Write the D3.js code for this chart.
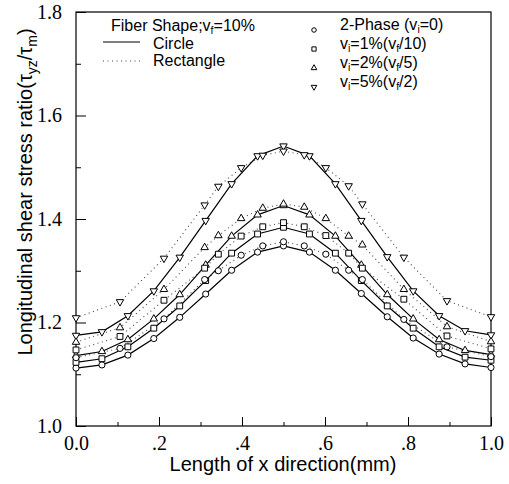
<!DOCTYPE html>
<html>
    <head>
        <script src="https://cdn.jsdelivr.net/npm/d3@7"></script>
        <style>
            body { margin: 0; background: #fff; }
        </style>
    </head>
    <body>
        <svg id="chart" width=509 height=484></svg>
        <script>
            // Data
            var circleX = [0, 0.0625, 0.125, 0.1875, 0.25, 0.3125, 0.375, 0.4375, 0.5, 0.5625, 0.625, 0.6875, 0.75, 0.8125, 0.875, 0.9375, 1];
            var rectX = [0, 0.106, 0.212, 0.31, 0.343, 0.398, 0.45, 0.5, 0.55, 0.602, 0.657, 0.69, 0.79, 0.894, 1];

            var circle2Phase = [1.112, 1.118, 1.137, 1.169, 1.210, 1.255, 1.301, 1.336, 1.348, 1.336, 1.301, 1.256, 1.211, 1.170, 1.139, 1.120, 1.113];
            var circleVi1 = [1.123, 1.130, 1.153, 1.189, 1.232, 1.281, 1.334, 1.371, 1.384, 1.371, 1.334, 1.281, 1.232, 1.189, 1.153, 1.133, 1.127];
            var circleVi2 = [1.136, 1.144, 1.167, 1.207, 1.254, 1.311, 1.367, 1.408, 1.426, 1.408, 1.367, 1.311, 1.254, 1.207, 1.167, 1.146, 1.138];
            var circleVi5 = [1.175, 1.182, 1.213, 1.261, 1.326, 1.397, 1.468, 1.522, 1.541, 1.522, 1.468, 1.397, 1.327, 1.261, 1.213, 1.184, 1.176];

            var rect2Phase = [1.132, 1.150, 1.207, 1.283, 1.300, 1.330, 1.348, 1.356, 1.348, 1.332, 1.301, 1.283, 1.206, 1.153, 1.134];
            var rectVi1 = [1.147, 1.173, 1.243, 1.305, 1.332, 1.367, 1.385, 1.393, 1.385, 1.368, 1.334, 1.305, 1.245, 1.174, 1.149];
            var rectVi2 = [1.162, 1.190, 1.264, 1.345, 1.368, 1.401, 1.421, 1.429, 1.423, 1.401, 1.367, 1.350, 1.264, 1.192, 1.163];
            var rectVi5 = [1.209, 1.240, 1.324, 1.427, 1.463, 1.499, 1.523, 1.531, 1.524, 1.499, 1.464, 1.429, 1.326, 1.242, 1.211];

            var xMajor = [0, 0.2, 0.4, 0.6, 0.8, 1.0];
            var xMajorLabels = ["0.0", ".2", ".4", ".6", ".8", "1.0"];
            var xMinor = [0.1, 0.3, 0.5, 0.7, 0.9];
            var yMajor = [1.0, 1.2, 1.4, 1.6, 1.8];
            var yMajorLabels = ["1.0", "1.2", "1.4", "1.6", "1.8"];
            var yMinor = [1.1, 1.3, 1.5, 1.7];

            var svg = d3.select("svg#chart");
            var sans = "'Liberation Sans', Arial, sans-serif";
            var serif = "'Liberation Serif', 'Times New Roman', serif";

            var plotLeft = 76, plotRight = 491, plotTop = 12, plotBottom = 426;
            var x = d3.scaleLinear().domain([0, 1]).range([plotLeft, plotRight]);
            var y = d3.scaleLinear().domain([1.0, 1.8]).range([plotBottom, plotTop]);

            // Axes (ticks point inward)
            function styleAxis(g) {
                g.select(".domain").remove();
                g.selectAll("line").attr("stroke", "#000");
                g.selectAll("text").attr("font-family", serif).attr("font-size", 20).attr("fill", "#000");
            }
            svg.append("g").attr("transform", "translate(0," + plotBottom + ")")
                .call(d3.axisBottom(x).tickValues(xMinor).tickSize(-4).tickFormat("")).call(styleAxis);
            svg.append("g").attr("transform", "translate(0," + plotBottom + ")")
                .call(d3.axisBottom(x).tickValues(xMajor).tickSize(-9).tickPadding(10)
                    .tickFormat(function(d, i) { return xMajorLabels[i]; })).call(styleAxis);
            svg.append("g").attr("transform", "translate(" + plotLeft + ",0)")
                .call(d3.axisLeft(y).tickValues(yMinor).tickSize(-5).tickFormat("")).call(styleAxis);
            svg.append("g").attr("transform", "translate(" + plotLeft + ",0)")
                .call(d3.axisLeft(y).tickValues(yMajor).tickSize(-10).tickPadding(14)
                    .tickFormat(function(d, i) { return yMajorLabels[i]; })).call(styleAxis);

            svg.append("rect").attr("x", plotLeft).attr("y", plotTop)
                .attr("width", plotRight - plotLeft).attr("height", plotBottom - plotTop)
                .attr("fill", "none").attr("stroke", "#000").attr("stroke-width", 1.2);

            // Axis titles
            svg.append("text").attr("x", 283).attr("y", 471).attr("text-anchor", "middle")
                .attr("font-family", sans).attr("font-size", 20).text("Length of x direction(mm)");

            var yt = svg.append("text").attr("transform", "translate(32,192) rotate(-90)").attr("text-anchor", "middle")
                .attr("font-family", sans).attr("font-size", 20);
            yt.append("tspan").text("Longitudinal shear stress ratio(\u03c4");
            yt.append("tspan").attr("dy", 5).attr("font-size", 14).text("yz");
            yt.append("tspan").attr("dy", -5).text("/\u03c4");
            yt.append("tspan").attr("dy", 5).attr("font-size", 14).text("m");
            yt.append("tspan").attr("dy", -5).text(")");

            // Series
            var series = [
                {xs: circleX, ys: circle2Phase, mark: "circle", dotted: false},
                {xs: circleX, ys: circleVi1, mark: "square", dotted: false},
                {xs: circleX, ys: circleVi2, mark: "up", dotted: false},
                {xs: circleX, ys: circleVi5, mark: "down", dotted: false},
                {xs: rectX, ys: rect2Phase, mark: "circle", dotted: true},
                {xs: rectX, ys: rectVi1, mark: "square", dotted: true},
                {xs: rectX, ys: rectVi2, mark: "up", dotted: true},
                {xs: rectX, ys: rectVi5, mark: "down", dotted: true}
            ];

            var symbols = {
                circle: d3.symbol().type(d3.symbolCircle).size(30),
                square: d3.symbol().type(d3.symbolSquare).size(34),
                up: d3.symbol().type(d3.symbolTriangle).size(24),
                down: d3.symbol().type(d3.symbolTriangle).size(24)
            };

            var line = d3.line().x(function(d) { return x(d[0]); }).y(function(d) { return y(d[1]); });

            series.forEach(function(s) {
                var pts = s.xs.map(function(v, i) { return [v, s.ys[i]]; });
                svg.append("path").datum(pts).attr("d", line).attr("fill", "none")
                    .attr("stroke", s.dotted ? "#444" : "#000")
                    .attr("stroke-width", s.dotted ? 1.1 : 1.2)
                    .attr("stroke-dasharray", s.dotted ? "1,3.5" : null);
            });
            series.forEach(function(s) {
                var pts = s.xs.map(function(v, i) { return [v, s.ys[i]]; });
                svg.append("g").selectAll("path").data(pts).enter().append("path")
                    .attr("d", symbols[s.mark])
                    .attr("transform", function(d) {
                        return "translate(" + x(d[0]) + "," + y(d[1]) + ")" + (s.mark == "down" ? " rotate(180)" : "");
                    })
                    .attr("fill", "#fff").attr("stroke", "#000").attr("stroke-width", 1);
            });

            // Legend: fiber shape
            var lg = svg.append("g").attr("font-family", sans).attr("font-size", 16).attr("fill", "#000");
            var t1 = lg.append("text").attr("x", 111).attr("y", 31);
            t1.append("tspan").text("Fiber Shape;v");
            t1.append("tspan").attr("dy", 2.5).attr("font-size", 10.5).text("f");
            t1.append("tspan").attr("dy", -2.5).text("=10%");
            lg.append("line").attr("x1", 103).attr("x2", 140).attr("y1", 42).attr("y2", 42)
                .attr("stroke", "#000").attr("stroke-width", 1.2);
            lg.append("text").attr("x", 153).attr("y", 49).text("Circle");
            lg.append("line").attr("x1", 103).attr("x2", 140).attr("y1", 61).attr("y2", 61)
                .attr("stroke", "#444").attr("stroke-width", 1.1).attr("stroke-dasharray", "1,3.5");
            lg.append("text").attr("x", 153).attr("y", 66).text("Rectangle");

            // Legend: interphase
            var legendRows = [
                {mark: "circle", y: 31, parts: [["2-Phase (v", 0], ["i", 1], ["=0)", 0]]},
                {mark: "square", y: 50, parts: [["v", 0], ["i", 1], ["=1%(v", 0], ["f", 1], ["/10)", 0]]},
                {mark: "up", y: 69, parts: [["v", 0], ["i", 1], ["=2%(v", 0], ["f", 1], ["/5)", 0]]},
                {mark: "down", y: 88, parts: [["v", 0], ["i", 1], ["=5%(v", 0], ["f", 1], ["/2)", 0]]}
            ];
            var legendSymbols = {
                circle: d3.symbol().type(d3.symbolCircle).size(16),
                square: d3.symbol().type(d3.symbolSquare).size(18),
                up: d3.symbol().type(d3.symbolTriangle).size(14),
                down: d3.symbol().type(d3.symbolTriangle).size(14)
            };
            legendRows.forEach(function(r) {
                lg.append("path").attr("d", legendSymbols[r.mark])
                    .attr("transform", "translate(314," + (r.y - 1) + ")" + (r.mark == "down" ? " rotate(180)" : ""))
                    .attr("fill", "#fff").attr("stroke", "#000");
                var t = lg.append("text").attr("x", 340).attr("y", r.y - 1);
                var prev = 0;
                r.parts.forEach(function(p) {
                    var shift = p[1] ? 2.5 : 0;
                    t.append("tspan").attr("dy", shift - prev).attr("font-size", p[1] ? 10.5 : null).text(p[0]);
                    prev = shift;
                });
            });
        </script>
    </body>
</html>
